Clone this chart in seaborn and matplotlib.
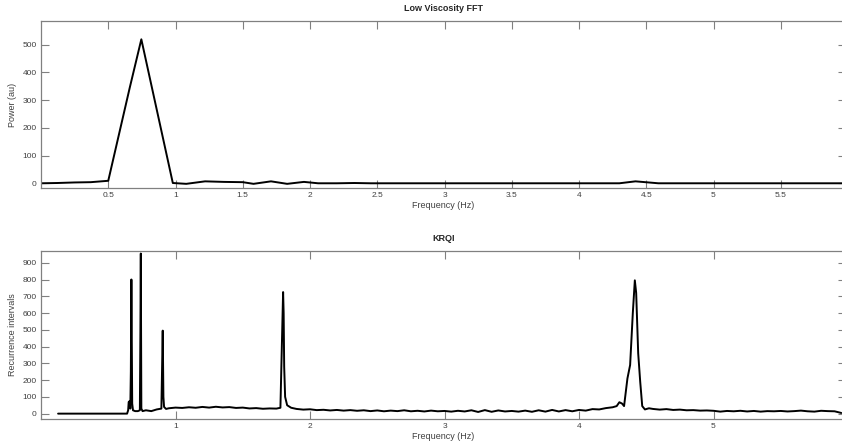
import numpy as np
import pandas as pd
import seaborn as sns
import matplotlib
matplotlib.use("Agg")
import matplotlib.pyplot as plt

# ---- top panel: low viscosity FFT ----
fft_freq = [0.0, 0.12, 0.25, 0.37, 0.5, 0.66, 0.746, 0.98, 1.08, 1.22, 1.36, 1.5,
            1.58, 1.71, 1.83, 1.955, 2.06, 2.2, 2.33, 2.45, 2.6, 3.5, 4.3, 4.42,
            4.59, 5.99]
fft_power = [0, 1, 3, 4, 9, 345, 519, 1, -2, 7, 5, 4,
             -2, 7, -2, 5, 0, 0, 1, 0, 0, 0, 0, 7,
             0, 0]

# ---- bottom panel: KRQI ----
krqi_freq = [0.127, 0.64, 0.648, 0.652, 0.660, 0.664, 0.668, 0.672, 0.675, 0.678,
             0.684, 0.70, 0.72, 0.735, 0.739, 0.742, 0.746, 0.755, 0.78, 0.82,
             0.86, 0.895, 0.900, 0.905, 0.910, 0.915, 0.93,
             0.95, 1.00, 1.05, 1.10, 1.15, 1.20, 1.25, 1.30, 1.35, 1.40, 1.45,
             1.50, 1.55, 1.60, 1.65, 1.70, 1.75, 1.78,
             1.795, 1.800, 1.804, 1.808, 1.815, 1.83, 1.86,
             1.90, 1.95, 2.00, 2.05, 2.10, 2.15, 2.20, 2.25, 2.30, 2.35, 2.40,
             2.45, 2.50, 2.55, 2.60, 2.65, 2.70, 2.75, 2.80, 2.85, 2.90, 2.95,
             3.00, 3.05, 3.10, 3.15, 3.20, 3.25, 3.30, 3.35, 3.40, 3.45, 3.50,
             3.55, 3.60, 3.65, 3.70, 3.75, 3.80, 3.85, 3.90, 3.95, 4.00, 4.05,
             4.10, 4.15, 4.20,
             4.25, 4.28, 4.30, 4.32, 4.335, 4.36, 4.38, 4.40, 4.415, 4.425,
             4.44, 4.455, 4.47, 4.49, 4.52, 4.55,
             4.60, 4.65, 4.70, 4.75, 4.80, 4.85, 4.90, 4.95, 5.00, 5.05, 5.10,
             5.15, 5.20, 5.25, 5.30, 5.35, 5.40, 5.45, 5.50, 5.55, 5.60, 5.65,
             5.70, 5.75, 5.80, 5.85, 5.90, 5.95]
krqi_count = [0, 0, 20, 70, 75, 30, 250, 800, 410, 60,
              20, 15, 15, 20, 490, 955, 30, 15, 20, 15,
              25, 30, 260, 495, 100, 40, 28,
              32, 36, 34, 38, 35, 40, 36, 41, 37, 39, 34,
              36, 31, 33, 29, 31, 30, 35,
              560, 725, 600, 280, 100, 50, 35,
              28, 24, 26, 21, 23, 19, 22, 18, 21, 17, 20,
              15, 19, 14, 18, 15, 20, 14, 17, 13, 18, 14,
              16, 12, 17, 13, 20, 10, 21, 11, 19, 13, 16,
              12, 18, 11, 20, 12, 22, 13, 21, 14, 22, 18,
              27, 25, 33,
              38, 45, 68, 60, 45, 210, 290, 600, 795, 720,
              360, 190, 45, 25, 32, 28,
              24, 27, 22, 24, 20, 21, 18, 19, 17, 12, 16,
              14, 17, 13, 16, 12, 15, 14, 16, 13, 15, 18,
              14, 12, 17, 15, 14, 4]

sns.set_style("white")
plt.rcParams["font.family"] = ["Liberation Sans", "DejaVu Sans"]

W, H = 842, 444
fig = plt.figure(figsize=(W / 100, H / 100), dpi=100)

spine_col = "#808080"
text_col = "#404040"


def style_axes(ax):
    for side in ["left", "top", "bottom"]:
        ax.spines[side].set_color(spine_col)
        ax.spines[side].set_linewidth(0.9)
    ax.spines["right"].set_visible(False)
    ax.tick_params(direction="in", length=5.5, width=0.8, color=spine_col,
                   labelsize=6, labelcolor=text_col, pad=3,
                   top=True, right=True, left=True, bottom=True)


# top axes
ax1 = fig.add_axes([41 / W, 1 - 188 / H, (846 - 41) / W, (188 - 21) / H])
sns.lineplot(x=fft_freq, y=fft_power, ax=ax1, color="black", lw=1.4,
             estimator=None, sort=False)
ax1.set_xlim(0, 5.985)
ax1.set_ylim(-17, 585)
ax1.set_xticks([0.5, 1, 1.5, 2, 2.5, 3, 3.5, 4, 4.5, 5, 5.5])
ax1.set_xticklabels(["0.5", "1", "1.5", "2", "2.5", "3", "3.5", "4", "4.5", "5", "5.5"])
ax1.set_yticks([0, 100, 200, 300, 400, 500])
style_axes(ax1)
ax1.set_xlabel("Frequency (Hz)", fontsize=6.5, color=text_col, labelpad=1)
ax1.set_ylabel("Power (au)", fontsize=6.5, color=text_col, labelpad=4)
ax1.set_title("Low Viscosity FFT", fontsize=6.5, fontweight="bold", pad=7)

# bottom axes
ax2 = fig.add_axes([41 / W, 1 - 419 / H, (846 - 41) / W, (419 - 251) / H])
sns.lineplot(x=krqi_freq, y=krqi_count, ax=ax2, color="black", lw=1.4,
             estimator=None, sort=False)
ax2.set_xlim(0, 5.985)
ax2.set_ylim(-32, 970)
ax2.set_xticks([1, 2, 3, 4, 5])
ax2.set_xticklabels(["1", "2", "3", "4", "5"])
ax2.set_yticks(list(range(0, 901, 100)))
style_axes(ax2)
ax2.set_xlabel("Frequency (Hz)", fontsize=6.5, color=text_col, labelpad=1)
ax2.set_ylabel("Recurrence intervals", fontsize=6.5, color=text_col, labelpad=4)
ax2.set_title("KRQI", fontsize=6.5, fontweight="bold", pad=7)

fig.savefig("out.png", dpi=100)
